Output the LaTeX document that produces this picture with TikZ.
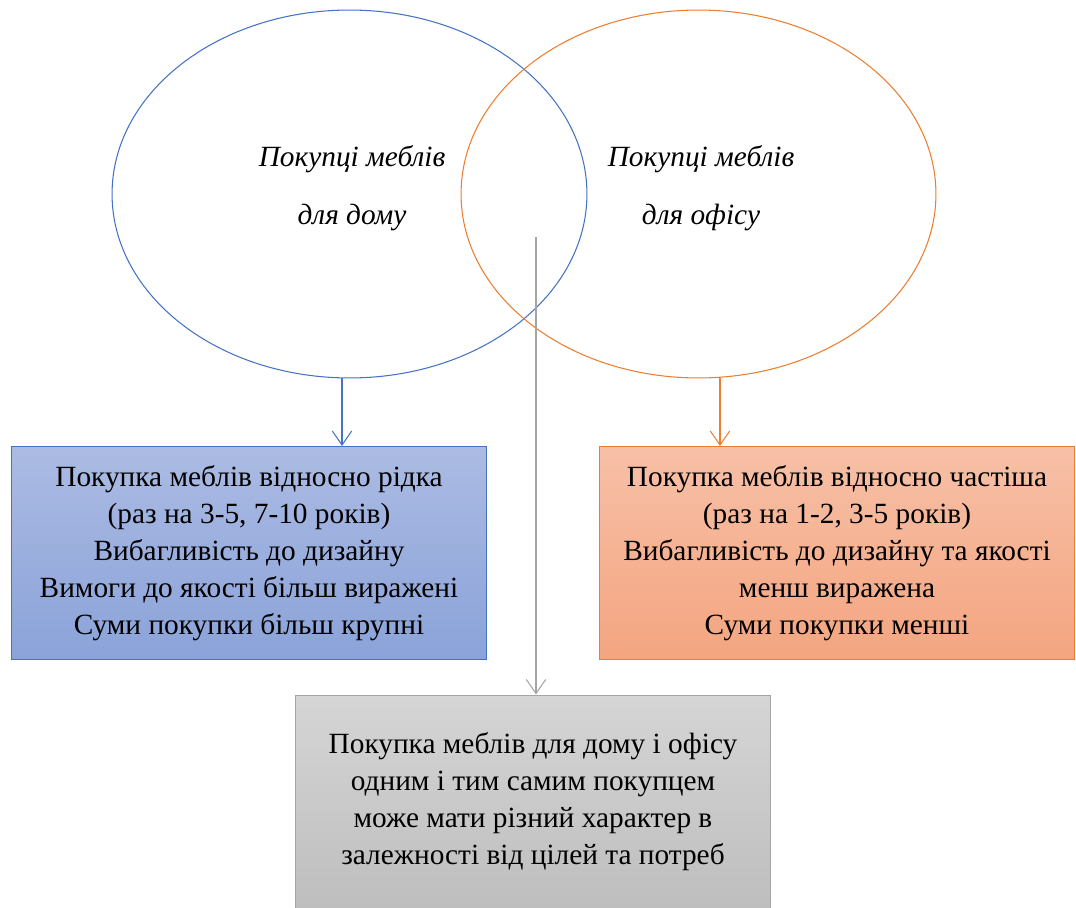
\documentclass[tikz,border=0pt]{standalone}
\usepackage{fontspec}
\setmainfont{Liberation Serif}
\usetikzlibrary{shapes.geometric,arrows.meta,positioning}

\definecolor{setblue}{RGB}{68,114,196}
\definecolor{setorange}{RGB}{237,125,49}
\definecolor{setgray}{RGB}{165,165,165}

\begin{document}
\begin{tikzpicture}[x=0.02cm, y=-0.02cm,
  every node/.style={font=\fontsize{16.7}{21.1}\selectfont},
  buyerset/.style={draw, ellipse, minimum width=9.5cm, minimum height=7.36cm, inner sep=0pt, line width=0.6pt},
  settext/.style={align=center, font=\fontsize{16.7}{33}\selectfont\itshape},
  infobox/.style={draw, rectangle, minimum width=9.52cm, minimum height=4.26cm, align=center, line width=0.6pt},
  arr/.style={-{Straight Barb[length=8pt, width=11pt]}, line width=0.6pt}]
\useasboundingbox (0,0) rectangle (1076,907);
\node[buyerset, setblue] (home) at (349.5,194) {};
\node[buyerset, setorange] (office) at (698.5,194) {};
\node[settext] (hometext) at (352,188) {Покупці меблів\\для дому};
\node[settext] (officetext) at (701,188) {Покупці меблів\\для офісу};
\node[infobox, draw=setblue, top color={rgb,255:red,171;green,187;blue,227}, bottom color={rgb,255:red,139;green,163;blue,217}] (homebox) at (249,553)
  {Покупка меблів відносно рідка\\(раз на 3-5, 7-10 років)\\Вибагливість до дизайну\\Вимоги до якості більш виражені\\Суми покупки більш крупні};
\node[infobox, draw=setorange, top color={rgb,255:red,247;green,192;blue,167}, bottom color={rgb,255:red,244;green,165;blue,128}] (officebox) at (837,553)
  {Покупка меблів відносно частіша\\(раз на 1-2, 3-5 років)\\Вибагливість до дизайну та якості\\менш виражена\\Суми покупки менші};
\node[infobox, draw=setgray, minimum height=4.28cm, top color={rgb,255:red,213;green,213;blue,213}, bottom color={rgb,255:red,190;green,190;blue,190}] (bothbox) at (533,802)
  {Покупка меблів для дому і офісу\\одним і тим самим покупцем\\може мати різний характер в\\залежності від цілей та потреб};
\coordinate (common) at (536,237);
\draw[arr, setblue] ([xshift=-0.15cm]home.south) -- ([xshift=-0.15cm]home.south |- homebox.north);
\draw[arr, setorange] ([xshift=0.43cm]office.south) -- ([xshift=0.43cm]office.south |- officebox.north);
\draw[arr, setgray] (common) -- (common |- bothbox.north);
\end{tikzpicture}
\end{document}
